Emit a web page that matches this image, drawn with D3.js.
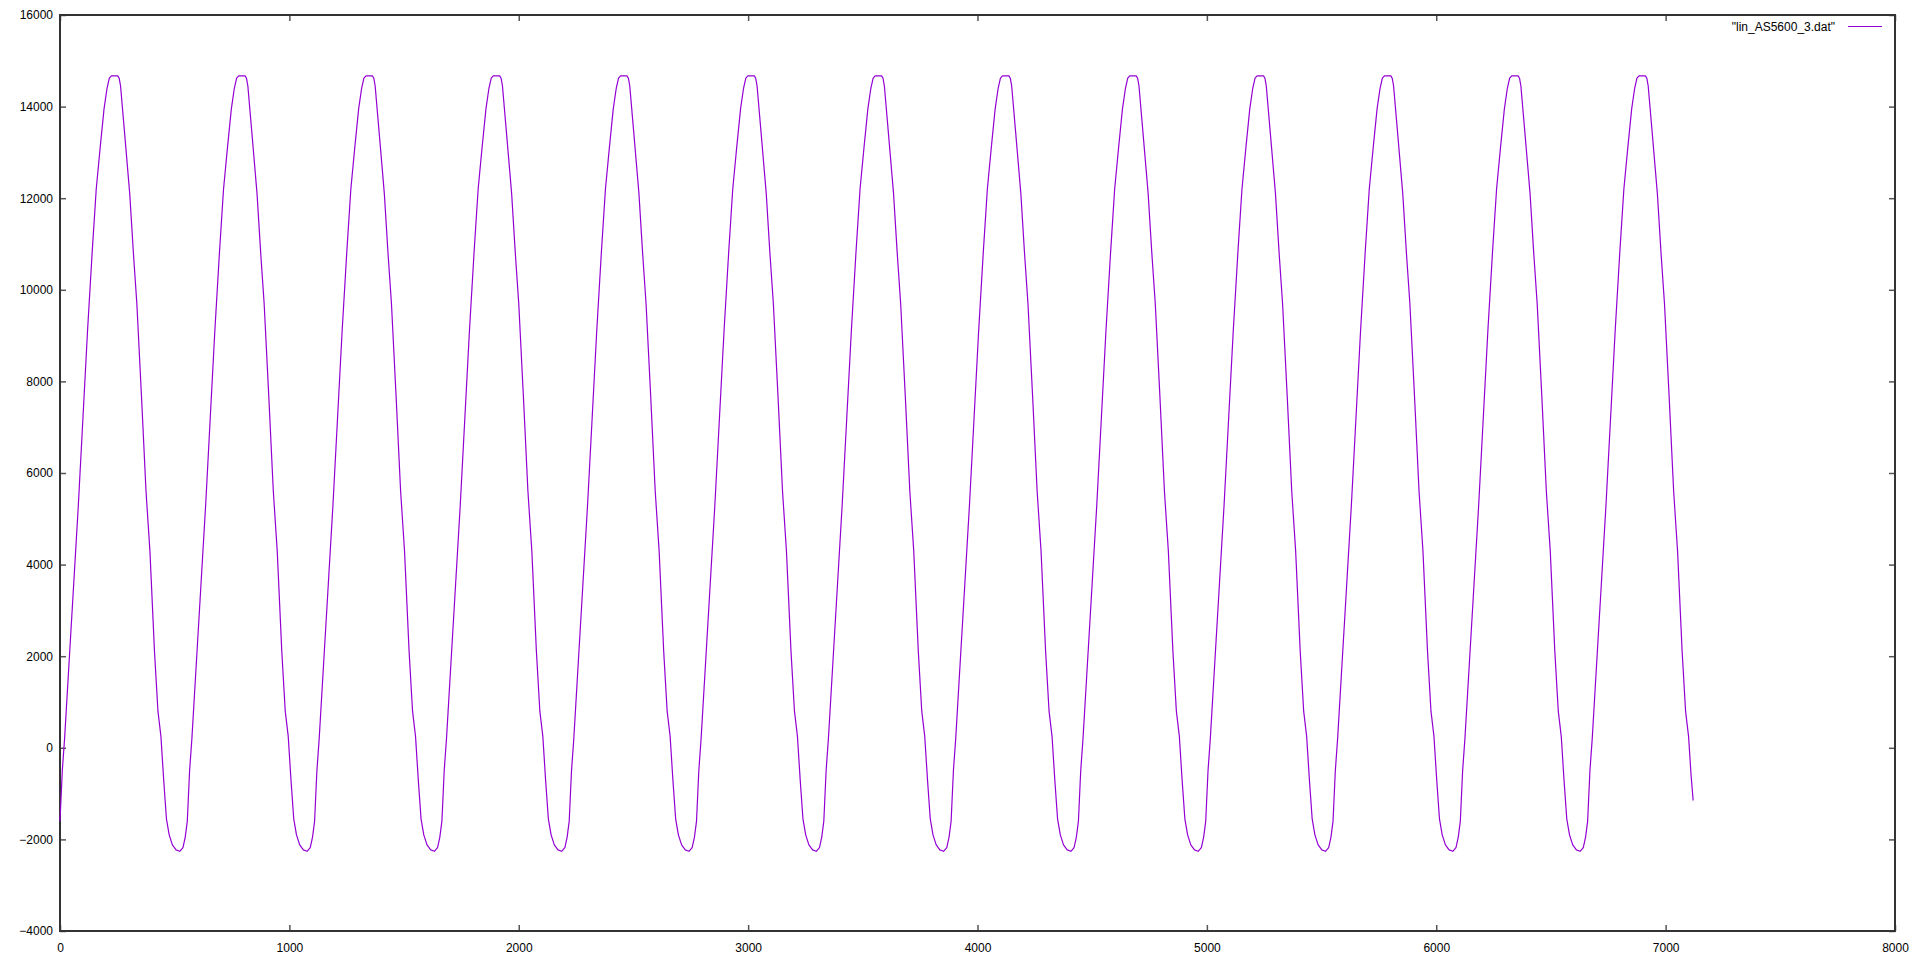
<!DOCTYPE html>
<html>
<head>
<meta charset="utf-8">
<script src="https://cdn.jsdelivr.net/npm/d3@7"></script>
<style>
  body { margin: 0; background: #fff; }
  text { font-family: "Liberation Sans", Arial, sans-serif; font-size: 12px; fill: #000; }
</style>
</head>
<body>
<script>
// data, one row per period
var xs = [
  0,10,20,40,60,80,100,120,140,158,175,192,205,215,224,252,258,264,282,304,320,335,355,375,392,412,427,440,452,464,476,490,506,522,536,546,
  555,565,575,595,615,635,655,675,695,713,730,747,760,770,779,807,813,819,837,859,875,890,910,930,947,967,982,995,1007,1019,1031,1045,1061,1077,1091,1101,
  1110,1120,1130,1150,1170,1190,1210,1230,1250,1268,1285,1302,1315,1325,1334,1362,1368,1374,1392,1414,1430,1445,1465,1485,1502,1522,1537,1550,1562,1574,1586,1600,1616,1632,1646,1656,
  1665,1675,1685,1705,1725,1745,1765,1785,1805,1823,1840,1857,1870,1880,1889,1917,1923,1929,1947,1969,1985,2000,2020,2040,2057,2077,2092,2105,2117,2129,2141,2155,2171,2187,2201,2211,
  2220,2230,2240,2260,2280,2300,2320,2340,2360,2378,2395,2412,2425,2435,2444,2472,2478,2484,2502,2524,2540,2555,2575,2595,2612,2632,2647,2660,2672,2684,2696,2710,2726,2742,2756,2766,
  2775,2785,2795,2815,2835,2855,2875,2895,2915,2933,2950,2967,2980,2990,2999,3027,3033,3039,3057,3079,3095,3110,3130,3150,3167,3187,3202,3215,3227,3239,3251,3265,3281,3297,3311,3321,
  3330,3340,3350,3370,3390,3410,3430,3450,3470,3488,3505,3522,3535,3545,3554,3582,3588,3594,3612,3634,3650,3665,3685,3705,3722,3742,3757,3770,3782,3794,3806,3820,3836,3852,3866,3876,
  3885,3895,3905,3925,3945,3965,3985,4005,4025,4043,4060,4077,4090,4100,4109,4137,4143,4149,4167,4189,4205,4220,4240,4260,4277,4297,4312,4325,4337,4349,4361,4375,4391,4407,4421,4431,
  4440,4450,4460,4480,4500,4520,4540,4560,4580,4598,4615,4632,4645,4655,4664,4692,4698,4704,4722,4744,4760,4775,4795,4815,4832,4852,4867,4880,4892,4904,4916,4930,4946,4962,4976,4986,
  4995,5005,5015,5035,5055,5075,5095,5115,5135,5153,5170,5187,5200,5210,5219,5247,5253,5259,5277,5299,5315,5330,5350,5370,5387,5407,5422,5435,5447,5459,5471,5485,5501,5517,5531,5541,
  5550,5560,5570,5590,5610,5630,5650,5670,5690,5708,5725,5742,5755,5765,5774,5802,5808,5814,5832,5854,5870,5885,5905,5925,5942,5962,5977,5990,6002,6014,6026,6040,6056,6072,6086,6096,
  6105,6115,6125,6145,6165,6185,6205,6225,6245,6263,6280,6297,6310,6320,6329,6357,6363,6369,6387,6409,6425,6440,6460,6480,6497,6517,6532,6545,6557,6569,6581,6595,6611,6627,6641,6651,
  6660,6670,6680,6700,6720,6740,6760,6780,6800,6818,6835,6852,6865,6875,6884,6912,6918,6924,6942,6964,6980,6995,7015,7035,7052,7072,7087,7100,7111,7120
]
var ys = [
  -1600,-500,200,1900,3600,5300,7200,9100,10800,12200,13100,13950,14400,14620,14670,14670,14620,14450,13400,12100,10800,9700,7700,5600,4300,2100,800,250,-700,-1550,-1900,-2120,-2230,-2260,-2180,-1950,
  -1600,-500,200,1900,3600,5300,7200,9100,10800,12200,13100,13950,14400,14620,14670,14670,14620,14450,13400,12100,10800,9700,7700,5600,4300,2100,800,250,-700,-1550,-1900,-2120,-2230,-2260,-2180,-1950,
  -1600,-500,200,1900,3600,5300,7200,9100,10800,12200,13100,13950,14400,14620,14670,14670,14620,14450,13400,12100,10800,9700,7700,5600,4300,2100,800,250,-700,-1550,-1900,-2120,-2230,-2260,-2180,-1950,
  -1600,-500,200,1900,3600,5300,7200,9100,10800,12200,13100,13950,14400,14620,14670,14670,14620,14450,13400,12100,10800,9700,7700,5600,4300,2100,800,250,-700,-1550,-1900,-2120,-2230,-2260,-2180,-1950,
  -1600,-500,200,1900,3600,5300,7200,9100,10800,12200,13100,13950,14400,14620,14670,14670,14620,14450,13400,12100,10800,9700,7700,5600,4300,2100,800,250,-700,-1550,-1900,-2120,-2230,-2260,-2180,-1950,
  -1600,-500,200,1900,3600,5300,7200,9100,10800,12200,13100,13950,14400,14620,14670,14670,14620,14450,13400,12100,10800,9700,7700,5600,4300,2100,800,250,-700,-1550,-1900,-2120,-2230,-2260,-2180,-1950,
  -1600,-500,200,1900,3600,5300,7200,9100,10800,12200,13100,13950,14400,14620,14670,14670,14620,14450,13400,12100,10800,9700,7700,5600,4300,2100,800,250,-700,-1550,-1900,-2120,-2230,-2260,-2180,-1950,
  -1600,-500,200,1900,3600,5300,7200,9100,10800,12200,13100,13950,14400,14620,14670,14670,14620,14450,13400,12100,10800,9700,7700,5600,4300,2100,800,250,-700,-1550,-1900,-2120,-2230,-2260,-2180,-1950,
  -1600,-500,200,1900,3600,5300,7200,9100,10800,12200,13100,13950,14400,14620,14670,14670,14620,14450,13400,12100,10800,9700,7700,5600,4300,2100,800,250,-700,-1550,-1900,-2120,-2230,-2260,-2180,-1950,
  -1600,-500,200,1900,3600,5300,7200,9100,10800,12200,13100,13950,14400,14620,14670,14670,14620,14450,13400,12100,10800,9700,7700,5600,4300,2100,800,250,-700,-1550,-1900,-2120,-2230,-2260,-2180,-1950,
  -1600,-500,200,1900,3600,5300,7200,9100,10800,12200,13100,13950,14400,14620,14670,14670,14620,14450,13400,12100,10800,9700,7700,5600,4300,2100,800,250,-700,-1550,-1900,-2120,-2230,-2260,-2180,-1950,
  -1600,-500,200,1900,3600,5300,7200,9100,10800,12200,13100,13950,14400,14620,14670,14670,14620,14450,13400,12100,10800,9700,7700,5600,4300,2100,800,250,-700,-1550,-1900,-2120,-2230,-2260,-2180,-1950,
  -1600,-500,200,1900,3600,5300,7200,9100,10800,12200,13100,13950,14400,14620,14670,14670,14620,14450,13400,12100,10800,9700,7700,5600,4300,2100,800,250,-600,-1150
]
var xTicks = [0, 1000, 2000, 3000, 4000, 5000, 6000, 7000, 8000]
var yTicks = [-4000, -2000, 0, 2000, 4000, 6000, 8000, 10000, 12000, 14000, 16000]
var seriesName = '"lin_AS5600_3.dat"'

var w = 1916, h = 959
var padL = 60, padT = 15, padR = 1895, padB = 931

var svg = d3.select("body").append("svg")
    .attr("width", w).attr("height", h)

var x = d3.scaleLinear().domain([0, 8000]).range([padL, padR])
var y = d3.scaleLinear().domain([-4000, 16000]).range([padB, padT])
var fmt = d3.format("d")

// inward ticks on all four sides, like gnuplot's mirror tics
function styleAxis(g) {
  g.select(".domain").remove()
  g.selectAll(".tick line").attr("stroke", "#555").attr("stroke-width", 1.5)
}

svg.append("g").attr("transform", "translate(0," + padB + ")")
    .call(d3.axisBottom(x).tickValues(xTicks).tickFormat(fmt).tickSize(-6).tickPadding(12))
    .call(styleAxis)
svg.append("g").attr("transform", "translate(0," + padT + ")")
    .call(d3.axisTop(x).tickValues(xTicks).tickSize(-6).tickFormat(""))
    .call(styleAxis)
svg.append("g").attr("transform", "translate(" + padL + ",0)")
    .call(d3.axisLeft(y).tickValues(yTicks).tickFormat(fmt).tickSize(-6).tickPadding(7))
    .call(styleAxis)
svg.append("g").attr("transform", "translate(" + padR + ",0)")
    .call(d3.axisRight(y).tickValues(yTicks).tickSize(-6).tickFormat(""))
    .call(styleAxis)

svg.selectAll("g").attr("font-family", null).attr("font-size", null)
svg.selectAll(".tick text").attr("fill", "#000")

svg.append("rect")
    .attr("x", padL).attr("y", padT)
    .attr("width", padR - padL).attr("height", padB - padT)
    .attr("fill", "none").attr("stroke", "#333").attr("stroke-width", 2)

var line = d3.line()
    .x(function(d, i) { return x(xs[i]) })
    .y(function(d, i) { return y(ys[i]) })

svg.append("path")
    .datum(xs)
    .attr("d", line)
    .attr("fill", "none")
    .attr("stroke", "#9400d3")
    .attr("stroke-width", 1.2)
    .attr("stroke-linejoin", "round")

// key
svg.append("text")
    .attr("x", 1835).attr("y", 31)
    .attr("text-anchor", "end")
    .text(seriesName)
svg.append("line")
    .attr("x1", 1848).attr("x2", 1882)
    .attr("y1", 26.5).attr("y2", 26.5)
    .attr("stroke", "#9400d3").attr("stroke-width", 1.2)
</script>
</body>
</html>
